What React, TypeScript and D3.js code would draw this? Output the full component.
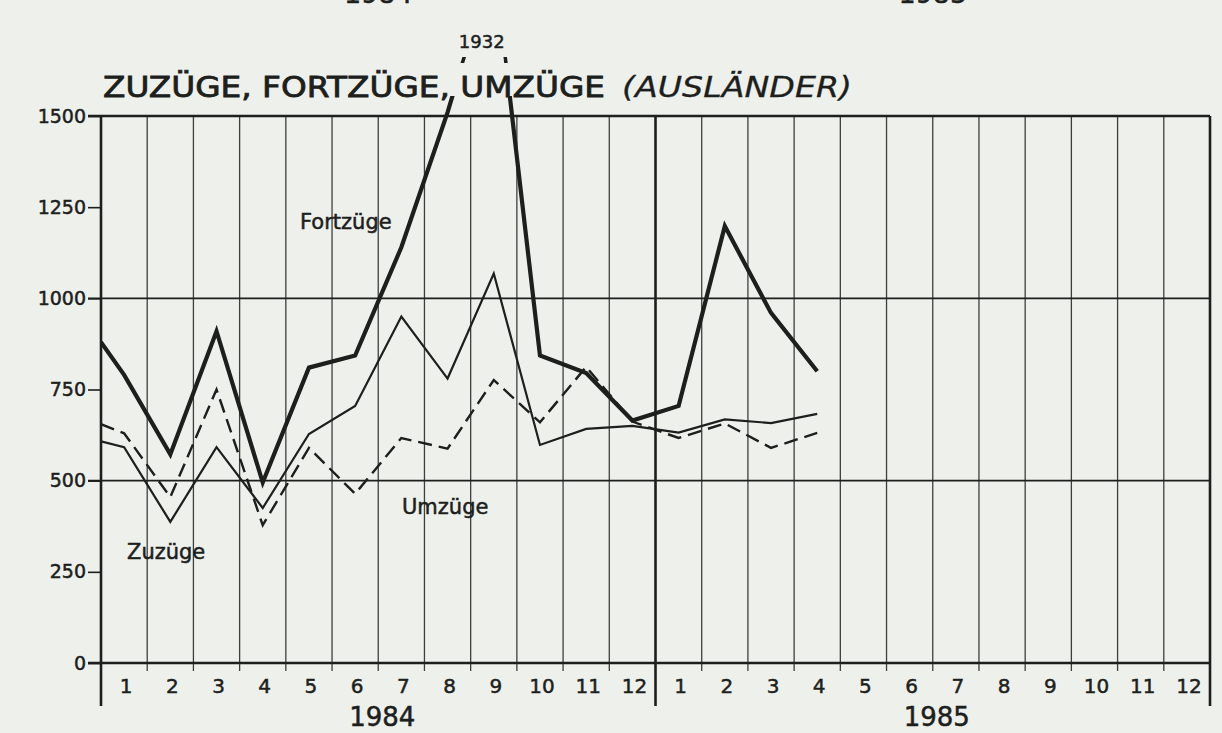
import { useEffect, useRef } from 'react';
import * as d3 from 'd3';

// Month labels along the bottom axis, repeated for each year
const months = ['1', '2', '3', '4', '5', '6', '7', '8', '9', '10', '11', '12'];
const years = ['1984', '1985'];
const yTicks = [0, 250, 500, 750, 1000, 1250, 1500];
const gridValues = [0, 500, 1000, 1500];

// First value sits on the left axis (end of 1983), then Jan 1984 .. Apr 1985
const fortzuege = [880, 790, 572, 910, 495, 810, 843, 1140, 1510, 1932, 843, 795, 665, 705, 1198, 960, 800];
const zuzuege = [608, 592, 387, 592, 425, 628, 705, 950, 780, 1068, 598, 642, 650, 632, 668, 658, 683];
const umzuege = [655, 630, 455, 750, 378, 590, 464, 617, 588, 776, 660, 812, 662, 617, 657, 590, 631];

const peakLabel = '1932';

export default function App() {
  const svgRef = useRef<SVGSVGElement>(null);

  useEffect(() => {
    if (!svgRef.current) return;

    const svg = d3.select(svgRef.current);
    svg.selectAll('*').remove();

    const ink = '#1d1f1d';
    const font = "'DejaVu Sans', sans-serif";

    const left = 101;
    const right = 1210;
    const top = 116;
    const bottom = 663;

    const x = d3.scaleLinear().domain([0, 24]).range([left, right]);
    const y = d3.scaleLinear().domain([0, 1500]).range([bottom, top]);

    // position of point i: 0 = axis, then month centres
    const px = (i: number) => x(i === 0 ? 0 : i - 0.5);

    // clip paths: plot area (lines poke a bit above the frame) and the small marks under "1932"
    const defs = svg.append('defs');
    defs
      .append('clipPath')
      .attr('id', 'plot-clip')
      .append('rect')
      .attr('x', left)
      .attr('y', 96)
      .attr('width', right - left)
      .attr('height', bottom - 96);
    defs
      .append('clipPath')
      .attr('id', 'mark-clip')
      .append('rect')
      .attr('x', left)
      .attr('y', 57)
      .attr('width', right - left)
      .attr('height', 6);

    // vertical month lines
    const boundaries = d3.range(0, 25);
    svg
      .append('g')
      .selectAll('line')
      .data(boundaries)
      .enter()
      .append('line')
      .attr('x1', (d) => x(d))
      .attr('x2', (d) => x(d))
      .attr('y1', top)
      .attr('y2', (d) => (d % 12 === 0 ? 706 : bottom + 8))
      .attr('stroke', (d) => (d % 12 === 0 ? ink : '#3c403d'))
      .attr('stroke-width', (d) => (d % 12 === 0 ? 2.6 : 1.3));

    // horizontal grid lines
    svg
      .append('g')
      .selectAll('line')
      .data(gridValues)
      .enter()
      .append('line')
      .attr('x1', left - 13)
      .attr('x2', right)
      .attr('y1', (d) => y(d))
      .attr('y2', (d) => y(d))
      .attr('stroke', ink)
      .attr('stroke-width', (d) => (d === 0 || d === 1500 ? 2.6 : 1.6));

    // y axis
    const yAxis = svg
      .append('g')
      .attr('transform', `translate(${left},0)`)
      .call(
        d3
          .axisLeft(y)
          .tickValues(yTicks)
          .tickFormat(d3.format('d'))
          .tickSize(13)
          .tickPadding(2)
      );
    yAxis.select('.domain').remove();
    yAxis.selectAll('line').attr('stroke', ink).attr('stroke-width', 1.6);
    yAxis
      .selectAll('text')
      .style('font-family', font)
      .style('font-size', '19px')
      .attr('fill', ink)
      .attr('stroke', ink)
      .attr('stroke-width', 0.5);

    const addText = (
      g: d3.Selection<SVGGElement, unknown, null, undefined>,
      size: number
    ) =>
      g
        .selectAll('text')
        .style('font-family', font)
        .style('font-size', `${size}px`)
        .attr('fill', ink)
        .attr('stroke', ink)
        .attr('stroke-width', 0.5);

    // month labels
    const monthG = svg.append('g');
    monthG
      .selectAll('text')
      .data(d3.range(0, 24))
      .enter()
      .append('text')
      .attr('x', (d) => x(d + 0.5) + 2)
      .attr('y', 693)
      .attr('text-anchor', 'middle')
      .text((d) => months[d % 12]);
    addText(monthG, 20);

    // year labels (bottom) and cut-off ones of the chart above
    const yearG = svg.append('g');
    yearG
      .selectAll('text')
      .data(years)
      .enter()
      .append('text')
      .attr('x', (_, i) => x(i * 12 + 6) + 4)
      .attr('y', 726)
      .attr('text-anchor', 'middle')
      .text((d) => d);
    addText(yearG, 26);

    const prevYearG = svg.append('g');
    prevYearG
      .selectAll('text')
      .data(years)
      .enter()
      .append('text')
      .attr('x', (_, i) => x(i * 12 + 6))
      .attr('y', 3)
      .attr('text-anchor', 'middle')
      .text((d) => d);
    addText(prevYearG, 27);

    // title
    const title = svg
      .append('text')
      .attr('x', 103)
      .attr('y', 97)
      .style('font-family', font)
      .style('font-size', '28px')
      .attr('fill', ink)
      .attr('stroke', ink)
      .attr('stroke-width', 0.8);
    title
      .append('tspan')
      .attr('textLength', 502)
      .attr('lengthAdjust', 'spacingAndGlyphs')
      .text('ZUZÜGE, FORTZÜGE, UMZÜGE');
    title
      .append('tspan')
      .attr('x', 622)
      .attr('textLength', 230)
      .attr('lengthAdjust', 'spacingAndGlyphs')
      .attr('stroke-width', 0.3)
      .style('font-style', 'italic')
      .text('(AUSLÄNDER)');

    // series
    const line = d3
      .line<number>()
      .x((_, i) => px(i))
      .y((d) => y(d));

    const series = [
      { values: umzuege, width: 2.4, dash: '14 7' },
      { values: zuzuege, width: 2.2, dash: null },
      { values: fortzuege, width: 4.2, dash: null },
    ];

    const lines = svg.append('g').attr('clip-path', 'url(#plot-clip)');
    series.forEach((s) => {
      lines
        .append('path')
        .datum(s.values)
        .attr('fill', 'none')
        .attr('stroke', ink)
        .attr('stroke-width', s.width)
        .attr('stroke-linejoin', 'miter')
        .attr('stroke-dasharray', s.dash)
        .attr('d', line);
    });

    // little marks showing where the Fortzüge line runs off towards its peak
    svg
      .append('g')
      .attr('clip-path', 'url(#mark-clip)')
      .append('path')
      .datum(fortzuege)
      .attr('fill', 'none')
      .attr('stroke', ink)
      .attr('stroke-width', 3.5)
      .attr('d', line);

    const peakIndex = fortzuege.indexOf(d3.max(fortzuege) as number);
    const peakG = svg.append('g');
    peakG
      .append('text')
      .attr('x', px(peakIndex) - 12)
      .attr('y', 48)
      .attr('text-anchor', 'middle')
      .text(peakLabel);
    addText(peakG, 18);

    // series names
    const names = [
      { text: 'Fortzüge', x: 300, y: 229 },
      { text: 'Umzüge', x: 402, y: 514 },
      { text: 'Zuzüge', x: 127, y: 559 },
    ];
    const nameG = svg.append('g');
    nameG
      .selectAll('text')
      .data(names)
      .enter()
      .append('text')
      .attr('x', (d) => d.x)
      .attr('y', (d) => d.y)
      .text((d) => d.text);
    addText(nameG, 21);
  }, []);

  return (
    <svg
      ref={svgRef}
      width={1222}
      height={733}
      style={{ position: 'absolute', left: 0, top: 0, background: '#eef0eb' }}
    />
  );
}
